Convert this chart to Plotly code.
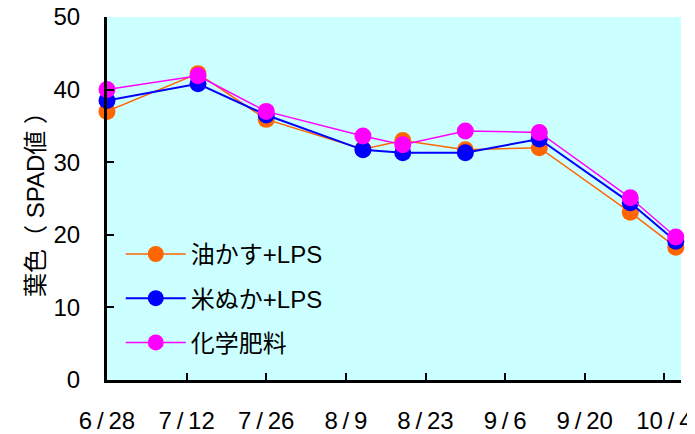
import plotly.graph_objects as go

dates = ["2005-06-28", "2005-07-14", "2005-07-26", "2005-08-12", "2005-08-19",
         "2005-08-30", "2005-09-12", "2005-09-28", "2005-10-06"]
aburakasu = [37.0, 42.2, 35.9, 31.8, 33.0, 31.7, 32.0, 23.1, 18.3]
komenuka = [38.5, 40.8, 36.5, 31.7, 31.3, 31.3, 33.2, 24.4, 19.1]
kagaku = [40.0, 41.9, 37.0, 33.6, 32.4, 34.3, 34.1, 25.1, 19.7]
names = ["油かす+LPS", "米ぬか+LPS", "化学肥料"]
colors = ["#FF6600", "#0000FF", "#FF00FF"]
tick_vals = ["2005-06-28", "2005-07-12", "2005-07-26", "2005-08-09", "2005-08-23",
             "2005-09-06", "2005-09-20", "2005-10-04"]
tick_text = ["6\u2009/\u200928", "7\u2009/\u200912", "7\u2009/\u200926", "8\u2009/\u20099",
             "8\u2009/\u200923", "9\u2009/\u20096", "9\u2009/\u200920", "10\u2009/\u20094"]

font_fam = "Liberation Sans, Noto Sans CJK JP"

fig = go.Figure()
for i, (name, vals, col, lw) in enumerate(zip(names, [aburakasu, komenuka, kagaku], colors, [1.5, 2, 1.5])):
    fig.add_trace(go.Scatter(
        x=dates, y=vals, name=name, mode="lines+markers",
        legendgroup="g%d" % i,
        line=dict(color=col, width=lw),
        marker=dict(color=col, size=17, line=dict(width=0)),
        cliponaxis=False,
    ))

fig.update_layout(
    width=687, height=426,
    margin=dict(l=99, r=14, t=9, b=54),
    paper_bgcolor="white",
    plot_bgcolor="#CCFFFF",
    font=dict(family=font_fam, size=24, color="black"),
    showlegend=True,
    legend=dict(x=0.024, y=0.408, xanchor="left", yanchor="top",
                bgcolor="rgba(0,0,0,0)", font=dict(size=24, family=font_fam),
                itemwidth=60, tracegroupgap=10),
    xaxis=dict(
        type="date", automargin=False,
        range=["2005-06-28", "2005-10-06 22:00"],
        tickvals=tick_vals, ticktext=tick_text,
        showgrid=False, zeroline=False,
        showline=True, linecolor="black", linewidth=3,
        ticks="inside", ticklen=7, tickwidth=2, tickcolor="black",
        tickfont=dict(size=24, family=font_fam),
        ticklabelstandoff=17, ticklabeloverflow="allow",
    ),
    yaxis=dict(
        range=[0, 50], dtick=10, automargin=False,
        showgrid=False, zeroline=False,
        showline=True, linecolor="black", linewidth=3,
        ticks="inside", ticklen=7, tickwidth=2, tickcolor="black",
        tickfont=dict(size=24, family=font_fam),
        ticklabelstandoff=19, ticklabeloverflow="allow",
        title=dict(text="葉色（ SPAD値 ）", font=dict(size=24, family=font_fam), standoff=3),
    ),
)

fig.write_html("out.html")
